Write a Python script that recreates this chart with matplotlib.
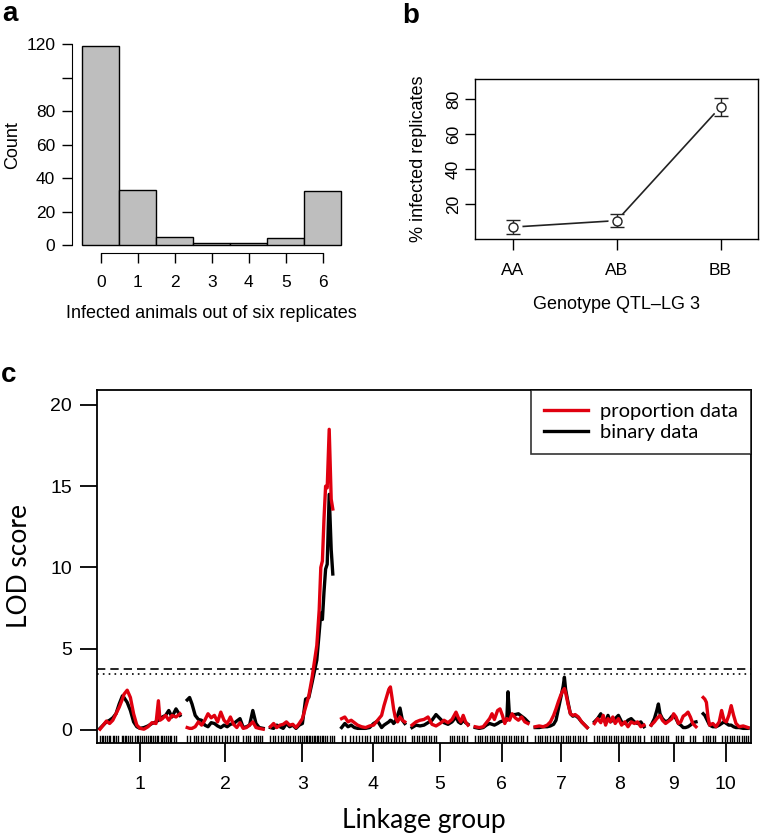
import matplotlib
matplotlib.use("Agg")
import matplotlib.pyplot as plt
import matplotlib.transforms as mtransforms
import numpy as np

# ---------------- Panel a data ----------------
infected_bins = [0, 1, 2, 3, 4, 5, 6]
infected_counts = [119, 33, 5, 1, 1, 4, 32]
count_ticks = [0, 20, 40, 60, 80, 100, 120]
count_ticklabels = ["0", "20", "40", "60", "80", "", "120"]

# ---------------- Panel b data ----------------
genotypes = ["AA", "AB", "BB"]
pct_infected = [6.8, 10.5, 75.5]
pct_se = [3.8, 3.7, 5.2]
pct_ticks = [20, 40, 60, 80]

# ---------------- Panel c data ----------------
chrom_names = ["1", "2", "3", "4", "5", "6", "7", "8", "9", "10"]
chrom_len = [100, 95, 80, 79, 70, 66, 65, 62, 56, 56]   # cM
chrom_gap = 9  # cM between linkage groups

pos_c1 = [0, 4, 8, 12, 16, 20, 24, 28, 30, 34, 38, 42, 46, 50, 55, 60, 65, 70, 73, 75, 78, 82, 86, 90, 95, 100]
red_c1 = [0.05, 0.3, 0.55, 0.4, 0.6, 1.0, 1.4, 1.9, 2.2, 2.45, 2.0, 1.0, 0.3, 0.1, 0.05, 0.2, 0.45, 0.4, 1.8, 0.6, 0.7, 0.9, 0.6, 0.9, 0.8, 1.0]
blk_c1 = [0.1, 0.3, 0.5, 0.6, 0.75, 1.0, 1.6, 2.1, 2.0, 1.7, 1.2, 0.5, 0.2, 0.1, 0.15, 0.25, 0.4, 0.5, 0.6, 0.7, 0.8, 0.9, 1.2, 0.8, 1.3, 0.9]

pos_c2 = [0, 3, 6, 10, 14, 18, 22, 26, 30, 34, 38, 42, 46, 50, 54, 58, 62, 66, 70, 74, 78, 82, 86, 90, 95]
red_c2 = [0.15, 0.1, 0.1, 0.2, 0.5, 0.3, 0.6, 1.0, 0.75, 0.9, 0.5, 1.1, 0.6, 0.4, 0.8, 0.35, 0.15, 0.45, 0.1, 0.15, 0.3, 0.5, 0.15, 0.1, 0.05]
blk_c2 = [1.85, 2.0, 1.6, 0.9, 0.65, 0.6, 0.3, 0.2, 0.45, 0.4, 0.25, 0.15, 0.3, 0.2, 0.35, 0.4, 0.55, 0.7, 0.15, 0.2, 0.3, 1.2, 0.4, 0.15, 0.1]

pos_c3 = [0, 4, 8, 12, 16, 20, 24, 28, 32, 36, 40, 44, 48, 52, 55, 58, 61, 63, 65, 67, 69, 71, 73.5, 76, 78]
red_c3 = [0.2, 0.4, 0.15, 0.3, 0.35, 0.5, 0.3, 0.35, 0.15, 0.4, 0.7, 1.4, 2.1, 3.2, 4.2, 5.2, 7.4, 10.0, 10.4, 13.0, 15.0, 14.9, 18.5, 14.2, 13.6]
blk_c3 = [0.15, 0.1, 0.3, 0.2, 0.1, 0.4, 0.2, 0.3, 0.1, 0.3, 0.4, 1.9, 2.0, 2.9, 3.6, 4.3, 6.0, 7.2, 6.8, 8.5, 9.9, 10.2, 14.5, 11.1, 9.6]

pos_c4 = [0, 4, 8, 12, 16, 20, 25, 30, 35, 40, 45, 50, 53, 56, 59, 61, 63, 65, 67, 70, 73, 76, 79]
red_c4 = [0.7, 0.8, 0.5, 0.6, 0.45, 0.3, 0.2, 0.15, 0.25, 0.3, 0.6, 0.9, 1.5, 2.0, 2.5, 2.65, 2.0, 1.3, 0.8, 0.5, 0.8, 0.6, 0.5]
blk_c4 = [0.15, 0.4, 0.2, 0.3, 0.15, 0.1, 0.1, 0.1, 0.15, 0.4, 0.55, 0.15, 0.3, 0.4, 0.5, 0.6, 0.55, 0.4, 0.5, 0.9, 1.35, 0.6, 0.4]

pos_c5 = [0, 5, 10, 15, 20, 25, 30, 35, 40, 45, 50, 55, 58, 61, 64, 67, 70]
red_c5 = [0.3, 0.5, 0.6, 0.65, 0.8, 0.35, 0.25, 0.4, 0.6, 0.45, 0.65, 1.1, 0.75, 0.5, 0.9, 0.5, 0.3]
blk_c5 = [0.15, 0.3, 0.25, 0.3, 0.45, 0.6, 0.95, 0.7, 0.45, 0.35, 0.5, 0.8, 0.5, 0.4, 0.6, 0.45, 0.35]

pos_c6 = [0, 5, 10, 14, 18, 21, 24, 28, 31, 34, 37, 39.5, 41, 43, 46, 50, 54, 58, 62, 66]
red_c6 = [0.2, 0.15, 0.2, 0.45, 0.7, 1.0, 0.65, 1.2, 1.3, 0.9, 0.4, 0.7, 0.65, 0.6, 1.0, 0.75, 0.6, 0.8, 0.5, 0.4]
blk_c6 = [0.15, 0.1, 0.15, 0.3, 0.4, 0.35, 0.3, 0.4, 0.5, 0.55, 0.6, 0.6, 2.35, 0.75, 0.95, 0.95, 1.0, 0.85, 0.7, 0.5]

pos_c7 = [0, 5, 10, 15, 19, 23, 26, 29, 32, 35, 36.5, 38, 41, 44, 47, 50, 54, 58, 62, 65]
red_c7 = [0.2, 0.25, 0.2, 0.3, 0.5, 0.9, 1.3, 1.75, 2.15, 2.45, 2.55, 2.3, 1.6, 1.0, 0.9, 0.95, 0.8, 0.5, 0.3, 0.15]
blk_c7 = [0.15, 0.15, 0.2, 0.2, 0.25, 0.35, 0.6, 1.3, 2.0, 2.7, 3.25, 2.5, 1.7, 1.0, 0.85, 0.9, 0.75, 0.5, 0.3, 0.15]

pos_c8 = [0, 4, 8, 11, 14, 17, 20, 23, 26, 30, 34, 38, 42, 46, 50, 54, 58, 62]
red_c8 = [0.4, 0.7, 0.45, 0.9, 0.3, 0.7, 0.5, 0.8, 0.4, 0.7, 0.3, 0.5, 0.2, 0.5, 0.4, 0.5, 0.2, 0.3]
blk_c8 = [0.5, 0.7, 1.0, 0.6, 0.5, 0.9, 0.5, 0.6, 0.7, 0.9, 0.5, 0.4, 0.6, 0.7, 0.5, 0.4, 0.5, 0.2]

pos_c9 = [0, 4, 7, 9, 11, 14, 18, 22, 26, 28, 31, 34, 37, 40, 43, 46, 49, 52, 56]
red_c9 = [0.3, 0.5, 0.7, 0.8, 0.9, 0.6, 0.4, 0.55, 0.7, 1.0, 0.8, 0.4, 0.5, 0.85, 0.95, 1.1, 0.8, 0.4, 0.2]
blk_c9 = [0.3, 0.7, 1.2, 1.6, 1.0, 0.7, 0.5, 0.6, 0.85, 0.9, 0.7, 0.4, 0.3, 0.15, 0.15, 0.2, 0.3, 0.45, 0.5]

pos_c10 = [0, 2, 4, 6, 8, 12, 16, 20, 23, 26, 29, 32, 35, 38, 41, 45, 50, 56]
red_c10 = [2.0, 1.9, 1.7, 0.8, 0.3, 0.4, 0.2, 0.5, 1.2, 0.6, 0.5, 0.9, 1.5, 0.9, 0.4, 0.2, 0.25, 0.15]
blk_c10 = [1.0, 0.9, 0.7, 0.5, 0.3, 0.2, 0.2, 0.3, 0.4, 0.5, 0.4, 0.3, 0.3, 0.2, 0.15, 0.15, 0.1, 0.1]

markers_c1 = [0, 2, 4, 6, 9, 11, 13, 16, 18, 20, 22, 27, 29, 31, 33, 35, 38, 40, 44, 46, 48, 50, 52, 55, 57, 60, 62, 64, 66, 69, 71, 73, 76, 78, 80, 82, 85, 87, 89, 92, 95]
markers_c2 = [0, 3, 8, 11, 14, 17, 20, 24, 27, 30, 33, 36, 40, 44, 47, 50, 53, 57, 61, 64, 70, 73, 76, 79, 83, 86, 88, 91, 94]
markers_c3 = [0, 3, 6, 10, 13, 16, 19, 22, 25, 28, 31, 34, 37, 40, 42, 44, 46, 48, 50, 52, 54, 56, 58, 60, 62, 64, 66, 68, 71, 74, 77, 80]
markers_c4 = [0, 4, 10, 14, 18, 22, 26, 29, 32, 36, 40, 43, 46, 49, 52, 55, 58, 62, 65, 68, 72, 76, 79]
markers_c5 = [0, 3, 6, 9, 12, 15, 18, 21, 24, 27, 30, 47, 50, 53, 56, 59, 62, 65, 69]
markers_c6 = [0, 3, 6, 9, 12, 15, 18, 21, 24, 27, 30, 33, 36, 39, 42, 45, 48, 51, 54, 57, 60, 65]
markers_c7 = [0, 3, 6, 9, 12, 15, 18, 22, 26, 29, 32, 35, 38, 41, 44, 47, 50, 53, 56, 60, 64]
markers_c8 = [0, 3, 6, 9, 12, 15, 18, 21, 24, 27, 30, 33, 36, 39, 42, 45, 48, 51, 54, 57, 62]
markers_c9 = [0, 3, 6, 9, 12, 15, 18, 21, 31, 34, 37, 40, 49, 52, 55]
markers_c10 = [0, 3, 6, 9, 12, 15, 24, 27, 30, 33, 36, 39, 42, 45, 48, 51, 54, 56]

lod_threshold_dashed = 3.78
lod_threshold_dotted = 3.45
legend_labels = ["proportion data", "binary data"]

positions = [pos_c1, pos_c2, pos_c3, pos_c4, pos_c5, pos_c6, pos_c7, pos_c8, pos_c9, pos_c10]
red_lods = [red_c1, red_c2, red_c3, red_c4, red_c5, red_c6, red_c7, red_c8, red_c9, red_c10]
blk_lods = [blk_c1, blk_c2, blk_c3, blk_c4, blk_c5, blk_c6, blk_c7, blk_c8, blk_c9, blk_c10]
markers = [markers_c1, markers_c2, markers_c3, markers_c4, markers_c5,
           markers_c6, markers_c7, markers_c8, markers_c9, markers_c10]

# ---------------- Figure ----------------
W, H = 760, 835
fig = plt.figure(figsize=(W / 100, H / 100), dpi=100)
SANS = "Liberation Sans"
HUM = "Lato"
TICK_AB = 12.5
LAB_AB = 13


def px_axes(left, top, right, bottom):
    return fig.add_axes([left / W, 1 - bottom / H, (right - left) / W, (bottom - top) / H])


# ----- Panel a -----
axa = px_axes(72, 37.7, 351.5, 253)
axa.bar(infected_bins, infected_counts, width=1.0, color="#BEBEBE",
        edgecolor="black", linewidth=1.0)
axa.set_xlim(-0.78, 6.78)
axa.set_ylim(-4.76, 123.76)
for s in ["top", "right"]:
    axa.spines[s].set_visible(False)
axa.spines["left"].set_bounds(0, 120)
axa.spines["bottom"].set_bounds(0, 6)
axa.set_yticks(count_ticks)
axa.set_yticklabels(count_ticklabels)
axa.set_xticks(infected_bins)
axa.tick_params(axis="y", length=7, width=1, pad=5, labelsize=TICK_AB)
axa.tick_params(axis="x", length=7, width=1, pad=9, labelsize=TICK_AB)
for lab in axa.get_xticklabels() + axa.get_yticklabels():
    lab.set_fontfamily(SANS)
axa.set_xlabel("Infected animals out of six replicates", fontsize=LAB_AB, family=SANS, labelpad=11)
axa.set_ylabel("Count", fontsize=LAB_AB, family=SANS, labelpad=4)

# ----- Panel b -----
axb = px_axes(475, 79, 758, 239)
xb = np.arange(1, len(genotypes) + 1)
axb.plot(xb, pct_infected, color="#222222", lw=1.2, zorder=1)
axb.plot(xb, pct_infected, ls="none", marker="o", ms=13, mfc="white", mec="none", zorder=2)
axb.errorbar(xb, pct_infected, yerr=pct_se, fmt="none", ecolor="#222222",
             elinewidth=1.0, capsize=5, capthick=1.0, zorder=3)
axb.plot(xb, pct_infected, ls="none", marker="o", ms=6.5, mfc="white", mec="#222222",
         mew=1.0, zorder=4)
axb.set_xlim(0.635, 3.36)
axb.set_ylim(0, 91.4)
axb.set_xticks(xb)
axb.set_xticklabels(genotypes)
axb.set_yticks(pct_ticks)
axb.tick_params(axis="y", length=7, width=1, pad=3, labelsize=TICK_AB)
axb.tick_params(axis="x", length=8, width=1, pad=9, labelsize=TICK_AB)
for lab in axb.get_yticklabels():
    lab.set_rotation(90)
    lab.set_va("center")
for lab in axb.get_xticklabels() + axb.get_yticklabels():
    lab.set_fontfamily(SANS)
for s in axb.spines.values():
    s.set_linewidth(1.0)
axb.set_xlabel("Genotype QTL\u2013LG 3", fontsize=LAB_AB, family=SANS, labelpad=13)
axb.set_ylabel("% infected replicates", fontsize=LAB_AB, family=SANS, labelpad=14)

# ----- Panel c -----
axc = px_axes(97, 390, 751, 743)
starts = []
cur = 0.0
for L in chrom_len:
    starts.append(cur)
    cur += L + chrom_gap
centers = [s + L / 2 for s, L in zip(starts, chrom_len)]

for i in range(len(chrom_len)):
    x = [starts[i] + p for p in positions[i]]
    axc.plot(x, blk_lods[i], color="black", lw=2.4, solid_joinstyle="round", zorder=3,
             label=legend_labels[1] if i == 0 else None)
for i in range(len(chrom_len)):
    x = [starts[i] + p for p in positions[i]]
    axc.plot(x, red_lods[i], color="#E0000F", lw=2.4, solid_joinstyle="round", zorder=4,
             label=legend_labels[0] if i == 0 else None)

rug_trans = mtransforms.blended_transform_factory(axc.transData, axc.transAxes)
for i in range(len(chrom_len)):
    for m in markers[i]:
        axc.plot([starts[i] + m, starts[i] + m], [0, 0.02], color="black", lw=1.0,
                 transform=rug_trans, zorder=2)

axc.axhline(lod_threshold_dashed, color="black", lw=1.2, ls=(0, (5, 3)), zorder=1)
axc.axhline(lod_threshold_dotted, color="black", lw=1.2, ls=(0, (1, 2.5)), zorder=1)

axc.set_xlim(-3.75, 813.75)
axc.set_ylim(-0.8, 20.92)
axc.set_xticks(centers)
axc.set_xticklabels(chrom_names)
axc.set_yticks([0, 5, 10, 15, 20])
axc.tick_params(axis="y", length=12, width=1.3, pad=6, labelsize=14)
axc.tick_params(axis="x", length=13.5, width=1.3, pad=10, labelsize=14)
for lab in axc.get_xticklabels() + axc.get_yticklabels():
    lab.set_fontfamily(SANS)
for s in axc.spines.values():
    s.set_linewidth(1.3)
axc.set_xlabel("Linkage group", fontsize=19, family=HUM, labelpad=11)
axc.set_ylabel("LOD score", fontsize=19, family=HUM, labelpad=13)

handles, labels = axc.get_legend_handles_labels()
order = [labels.index(legend_labels[0]), labels.index(legend_labels[1])]
leg = axc.legend([handles[k] for k in order], [labels[k] for k in order],
                 loc="upper right", prop={"family": HUM, "size": 14.5},
                 frameon=True, fancybox=False, borderaxespad=0, handlelength=2.2,
                 handletextpad=0.6, borderpad=0.65, labelspacing=0.2)
leg.get_frame().set_edgecolor("black")
leg.get_frame().set_linewidth(1.2)

# Panel letters
fig.text(2 / W, 1 - 21 / H, "a", fontsize=20, fontweight="bold", family=SANS)
fig.text(402 / W, 1 - 23 / H, "b", fontsize=20, fontweight="bold", family=SANS)
fig.text(1 / W, 1 - 382 / H, "c", fontsize=20, fontweight="bold", family=SANS)

fig.savefig("out.png", dpi=100)
